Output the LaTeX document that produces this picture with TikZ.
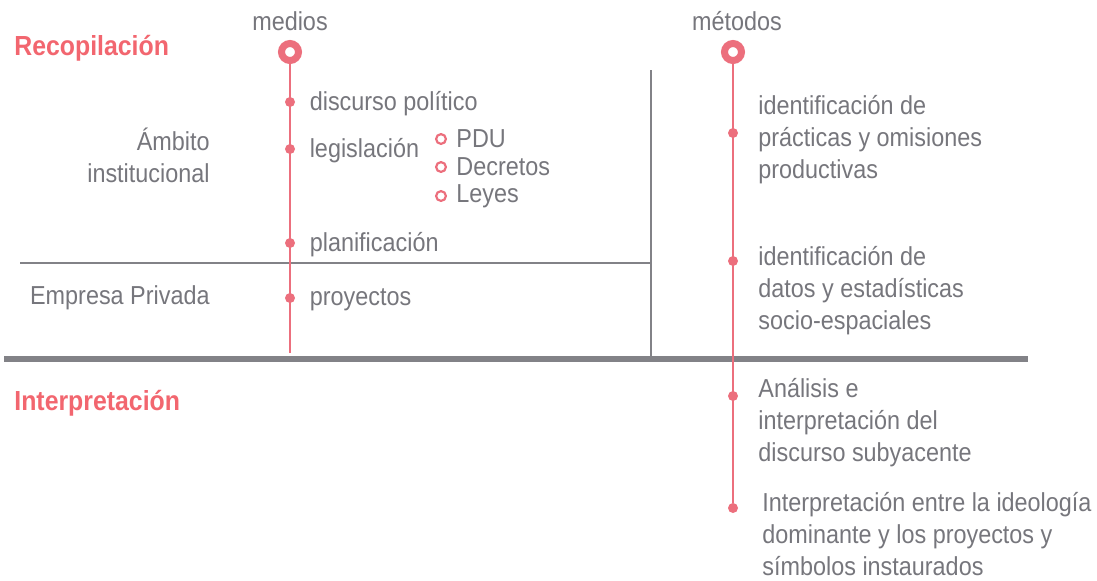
\documentclass[tikz,border=0pt]{standalone}
\usepackage{fontspec}
\setmainfont[FakeStretch=0.9]{Liberation Sans}
\usepackage{tikz}
\usetikzlibrary{positioning}
\definecolor{rosa}{HTML}{EC6F7D}
\definecolor{rojoT}{HTML}{F2666F}
\definecolor{grisT}{HTML}{76767C}
\definecolor{grisL}{HTML}{828287}
\tikzset{
  ringN/.style={circle, draw=rosa, fill=white, line width=3.5pt,
                inner sep=0pt, minimum size=8.5pt},
  dotN/.style={circle, fill=rosa, inner sep=0pt, minimum size=5pt},
  hollowN/.style={circle, draw=rosa, fill=white, line width=1.1pt,
                  inner sep=0pt, minimum size=4.9pt},
  txt/.style={text=grisT, inner sep=0pt, align=left,
              font=\fontsize{13}{16}\selectfont},
  head/.style={text=rojoT, inner sep=0pt,
               font=\fontsize{13.8}{17}\selectfont\bfseries},
  redline/.style={draw=rosa, line width=1.3pt},
  thinG/.style={draw=grisL, line width=1.1pt},
  thickG/.style={draw=grisL, line width=2.6pt},
}
\begin{document}
\begin{tikzpicture}[x=0.5pt, y=-0.5pt]
    \useasboundingbox (0,0) rectangle (1097,580);
    %% Phases
    \node[head, anchor=west] (recop) at (14,48) {Recopilación};
    \node[head, anchor=west] (interp) at (14,403) {Interpretación};
    %% Dividers
    \coordinate (hA) at (20,263);
    \coordinate (hB) at (651,263);
    \coordinate (vA) at (651,70);
    \coordinate (vB) at (651,357);
    \coordinate (gA) at (4,359);
    \coordinate (gB) at (1028,359);
    \draw[thinG] (hA) -- (hB);
    \draw[thinG] (vA) -- (vB);
    \draw[thickG] (gA) -- (gB);
    %% Row labels
    \node[txt, align=right, anchor=east] (inst) at (210,155) {Ámbito\\institucional};
    \node[txt, anchor=east] (priv) at (210,298) {Empresa Privada};
    %% Medios column
    \node[txt] (medios) at (290,21) {medios};
    \node[ringN] (m0) at (290,52) {};
    \foreach \n/\y/\t in {m1/102/discurso político, m2/149/legislación,
                          m3/243/planificación, m4/298/proyectos}{
      \node[dotN] (\n) at (290,\y) {};
      \node[txt, anchor=west, right=7pt of \n, yshift=-1pt] (\n t) {\t};
    }
    \coordinate (mEnd) at (290,353);
    \draw[redline] (m0) -- (mEnd);
    %% Legislacion items
    \foreach \n/\y/\t in {l1/139/PDU, l2/167/Decretos, l3/196/Leyes}{
      \node[hollowN] (\n) at (441,\y) {};
      \node[txt, anchor=west, right=4.5pt of \n] (\n t) {\t};
    }
    %% Metodos column
    \node[txt] (metodos) at (737,21) {métodos};
    \node[ringN] (k0) at (733,52) {};
    \foreach \n/\y in {k1/133, k2/261, k3/396, k4/508}{
      \node[dotN] (\n) at (733,\y) {};
    }
    \draw[redline] (k0) -- (k4);
    \node[txt, anchor=west] (k1t) at (758,140)
      {identificación de\\prácticas y omisiones\\productivas};
    \node[txt, anchor=west] (k2t) at (758,291)
      {identificación de\\datos y estadísticas\\socio-espaciales};
    \node[txt, anchor=west] (k3t) at (758,423)
      {Análisis e\\interpretación del\\discurso subyacente};
    \node[txt, anchor=west] (k4t) at (762,534)
      {Interpretación entre la ideología\\dominante y los proyectos y\\símbolos instaurados};
\end{tikzpicture}
\end{document}
